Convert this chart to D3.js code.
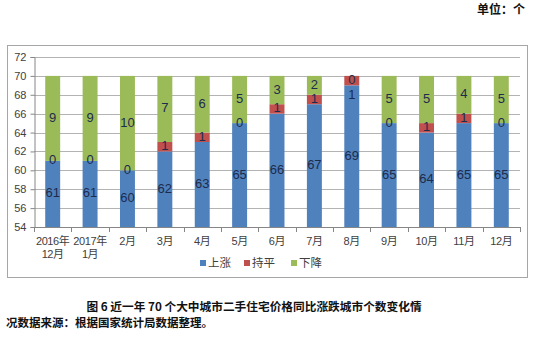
<!DOCTYPE html>
<html>
<head>
<meta charset="utf-8">
<script src="https://cdn.jsdelivr.net/npm/d3@7"></script>
<style>
  html, body { margin: 0; padding: 0; background: #fff; }
  svg { display: block; }
</style>
</head>
<body>
<svg id="chart" width="537" height="338"></svg>
<script>
// Month categories: first line and optional second line of each label
const categories = ["2016年12月", "2017年1月", "2月", "3月", "4月", "5月", "6月", "7月", "8月", "9月", "10月", "11月", "12月"];
const labelLine1 = ["2016年", "2017年", "2月", "3月", "4月", "5月", "6月", "7月", "8月", "9月", "10月", "11月", "12月"];
const labelLine2 = ["12月", "1月", "", "", "", "", "", "", "", "", "", "", ""];
// Number of cities per category
const upValues   = [61, 61, 60, 62, 63, 65, 66, 67, 69, 65, 64, 65, 65];
const flatValues = [0, 0, 0, 1, 1, 0, 1, 1, 1, 0, 1, 1, 0];
const downValues = [9, 9, 10, 7, 6, 5, 3, 2, 0, 5, 5, 4, 5];
const seriesNames = ["上涨", "持平", "下降"];
const yTicks = [54, 56, 58, 60, 62, 64, 66, 68, 70, 72];

const colors = ["#4F81BD", "#C0504D", "#9BBB59"];
const cjk = "'Noto Sans CJK SC', 'Noto Sans', sans-serif";
const latin = "'Liberation Sans', 'Noto Sans CJK SC', sans-serif";

const svg = d3.select("#chart");

const rows = categories.map((c, i) => ({ cat: c, up: upValues[i], flat: flatValues[i], down: downValues[i] }));
const stack = d3.stack().keys(["up", "flat", "down"])(rows);

const plot = { left: 34, right: 520, top: 57, bottom: 227 };

const x = d3.scaleBand()
  .domain(categories)
  .range([plot.left, plot.right])
  .paddingInner(0.6)
  .paddingOuter(0.3);

const y = d3.scaleLinear()
  .domain([54, 72])
  .range([plot.bottom, plot.top]);
const yMin = y.domain()[0];

// Unit label
svg.append("text")
  .attr("x", 525).attr("y", 14)
  .attr("text-anchor", "end")
  .style("font-family", cjk).style("font-weight", "bold").style("font-size", "12px")
  .attr("fill", "#111")
  .text("单位：个");

// Chart frame
svg.append("rect")
  .attr("x", 7.5).attr("y", 45.5).attr("width", 520).attr("height", 232)
  .attr("fill", "#fff").attr("stroke", "#a6a6a6").attr("stroke-width", 1);

// Horizontal gridlines
svg.append("g")
  .selectAll("line")
  .data(yTicks)
  .join("line")
  .attr("x1", plot.left).attr("x2", plot.right)
  .attr("y1", d => Math.round(y(d)) + 0.5).attr("y2", d => Math.round(y(d)) + 0.5)
  .attr("stroke", "#b3b3b3").attr("stroke-width", 1);

// Stacked bars, clipped to the visible value range
const layers = svg.append("g")
  .selectAll("g")
  .data(stack)
  .join("g")
  .attr("fill", (d, i) => colors[i]);

layers.selectAll("rect")
  .data(d => d.map(s => ({ lo: Math.max(s[0], yMin), hi: s[1], cat: s.data.cat })))
  .join("rect")
  .attr("x", d => x(d.cat))
  .attr("width", x.bandwidth())
  .attr("y", d => y(d.hi))
  .attr("height", d => y(d.lo) - y(d.hi));

// Y axis
const yAxis = d3.axisLeft(y).tickValues(yTicks).tickSize(4).tickPadding(4);
const gy = svg.append("g")
  .attr("transform", `translate(${plot.left + 0.5},0)`)
  .call(yAxis);
gy.select(".domain").attr("stroke", "#868686");
gy.selectAll(".tick line").attr("stroke", "#868686");
gy.selectAll("text")
  .style("font-family", latin).style("font-size", "11px").attr("fill", "#404040");

// X axis line and category boundary ticks
const step = x.step();
const gx = svg.append("g");
gx.append("line")
  .attr("x1", plot.left).attr("x2", plot.right)
  .attr("y1", plot.bottom + 0.5).attr("y2", plot.bottom + 0.5)
  .attr("stroke", "#868686");
gx.selectAll("line.tk")
  .data(d3.range(categories.length + 1))
  .join("line")
  .attr("class", "tk")
  .attr("x1", i => Math.round(plot.left + i * step) + 0.5)
  .attr("x2", i => Math.round(plot.left + i * step) + 0.5)
  .attr("y1", plot.bottom).attr("y2", plot.bottom + 5)
  .attr("stroke", "#868686");

// Category labels, one text element per line
const xLabels = svg.append("g")
  .style("font-family", latin).style("font-size", "11px")
  .style("letter-spacing", "-0.4px")
  .attr("fill", "#404040")
  .attr("text-anchor", "middle");
xLabels.selectAll("text.l1")
  .data(categories)
  .join("text")
  .attr("class", "l1")
  .attr("x", d => x(d) + x.bandwidth() / 2)
  .attr("y", 245)
  .text((d, i) => labelLine1[i]);
xLabels.selectAll("text.l2")
  .data(categories.filter((d, i) => labelLine2[i] !== ""))
  .join("text")
  .attr("class", "l2")
  .attr("x", d => x(d) + x.bandwidth() / 2)
  .attr("y", 258)
  .text(d => labelLine2[categories.indexOf(d)]);

// Data labels: centered in the visible part of each segment,
// nudged apart when they would collide
const labelData = [];
rows.forEach((r, i) => {
  const segs = stack.map(layer => layer[i]);
  const items = segs.map(s => ({
    cat: r.cat,
    value: s[1] - s[0],
    y: y((Math.max(s[0], yMin) + s[1]) / 2) - 1
  })).reverse();   // walk from the top segment downward
  const topY = y(d3.max(segs, s => s[1]));
  let prev = -Infinity;
  items.forEach((it, k) => {
    if (k === 0 && it.value === 0) it.y = Math.max(it.y, topY + 4);
    if (it.y < prev + 14.5) it.y = prev + 14.5;
    prev = it.y;
    labelData.push(it);
  });
});
svg.append("g")
  .selectAll("text")
  .data(labelData)
  .join("text")
  .attr("x", d => x(d.cat) + x.bandwidth() / 2)
  .attr("y", d => d.y)
  .attr("dy", "0.35em")
  .attr("text-anchor", "middle")
  .style("font-family", latin).style("font-size", "13px")
  .attr("fill", "#1d2b4c")
  .text(d => d.value);

// Legend
const legendX = [200, 244, 291];
const lg = svg.append("g");
seriesNames.forEach((name, i) => {
  lg.append("rect")
    .attr("x", legendX[i]).attr("y", 260).attr("width", 6).attr("height", 6)
    .attr("fill", colors[i]);
  lg.append("text")
    .attr("x", legendX[i] + 8).attr("y", 267)
    .style("font-family", cjk).style("font-size", "11.5px")
    .attr("fill", "#404040")
    .text(name);
});

// Caption and source
svg.append("text")
  .attr("x", 254).attr("y", 311)
  .attr("text-anchor", "middle")
  .style("font-family", cjk).style("font-weight", "bold").style("font-size", "11.7px")
  .attr("fill", "#111")
  .text("图 6 近一年 70 个大中城市二手住宅价格同比涨跌城市个数变化情");
svg.append("text")
  .attr("x", 6).attr("y", 327)
  .style("font-family", cjk).style("font-weight", "bold").style("font-size", "11.5px")
  .attr("fill", "#111")
  .text("况数据来源：根据国家统计局数据整理。");
</script>
</body>
</html>
